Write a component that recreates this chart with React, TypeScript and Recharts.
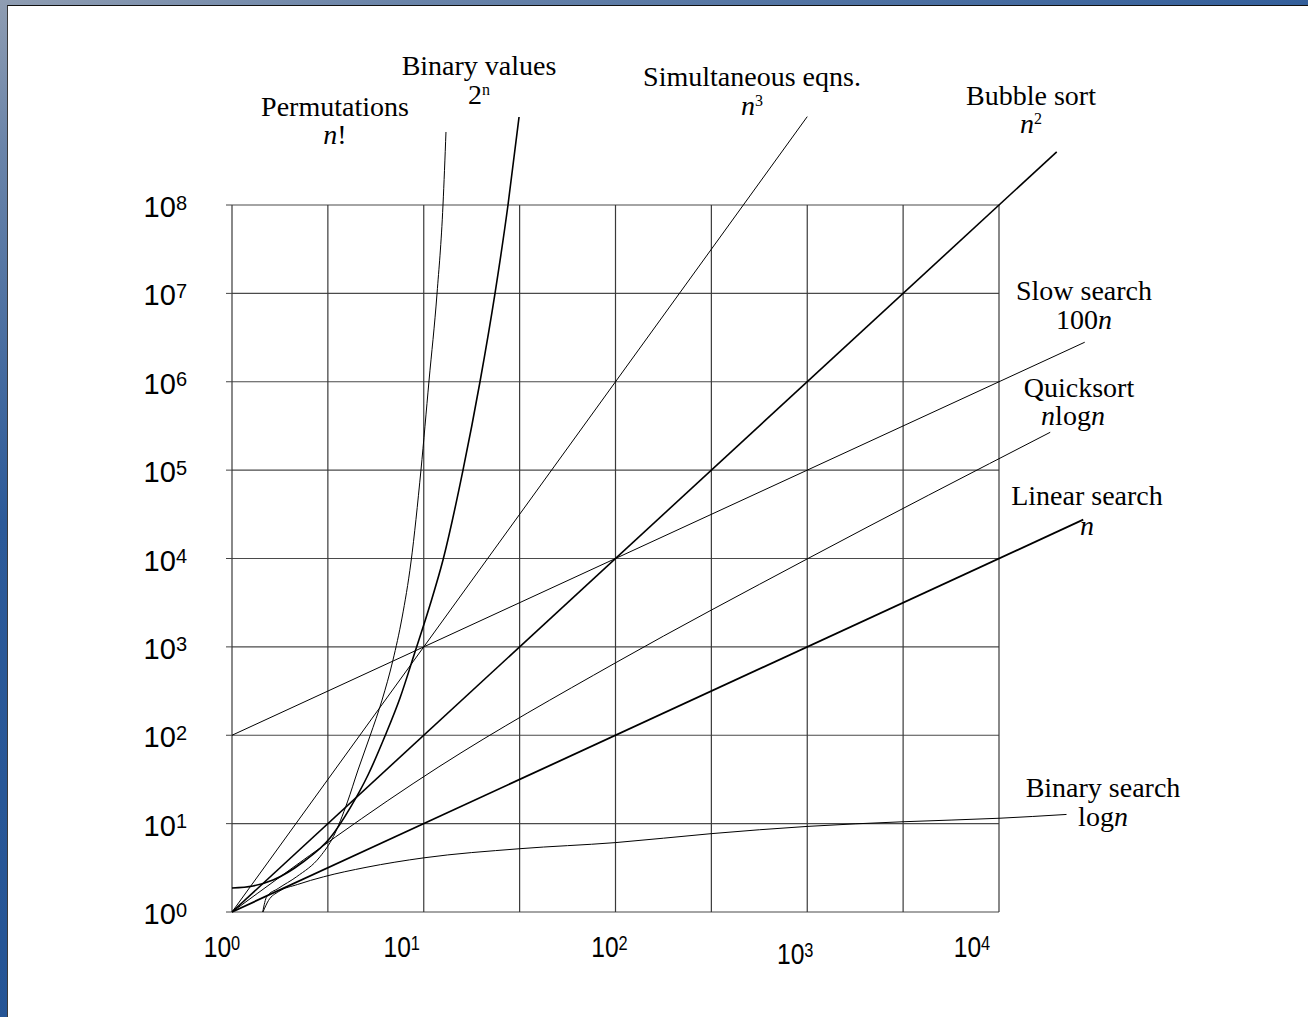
import { LineChart, Line, XAxis, YAxis, ReferenceLine, Customized } from 'recharts'

const W = 1308
const H = 1017

// grid lines: decades on y, half decades on x
const xGridValues = [1, 3.162, 10, 31.62, 100, 316.2, 1000, 3162, 10000]
const yGridValues = [1, 10, 100, 1000, 1e4, 1e5, 1e6, 1e7, 1e8]
const xTickValues = [1, 10, 100, 1000, 10000]
const yTickValues = [1, 10, 100, 1000, 1e4, 1e5, 1e6, 1e7, 1e8]

// curves as (n, value) pairs
const factorialN = [1.446, 1.517, 1.744, 2.175, 2.877, 3.376, 4.0, 4.54, 5.245, 6.06, 6.91, 7.7, 8.58, 9.67, 10.65, 11.73, 12.6, 13.06]
const factorialV = [1, 1.49, 1.85, 2.51, 4.22, 7.11, 17.6, 40.4, 98, 250, 710, 2120, 9130, 1e5, 1.02e6, 1e7, 1e8, 6.7e8]

const powerN = [1, 1.287, 1.636, 2.346, 3.245, 4.125, 5.12, 6.28, 7.52, 9.0, 10.78, 12.6, 16.02, 19.65, 23.53, 27.5, 31.4]
const powerV = [1.87, 1.97, 2.3, 3.68, 6.88, 15, 35.5, 98, 264, 875, 2980, 9620, 1e5, 1e6, 1e7, 1e8, 9.9e8]

const cubeN = [1, 1000]
const cubeV = [1, 1e9]

const squareN = [1, 20000]
const squareV = [1, 4e8]

const slowSearchN = [1, 28000]
const slowSearchV = [100, 2.8e6]

const quicksortN = [1, 12, 100, 1000, 18500]
const quicksortV = [1, 44, 660, 9900, 2.68e5]

const linearN = [1, 27500]
const linearV = [1, 27500]

const binarySearchN = [1.45, 1.55, 1.75, 2.2, 3, 5, 10, 31.6, 100, 316, 1000, 3162, 10000, 22500]
const binarySearchV = [1, 1.35, 1.7, 2.05, 2.5, 3.2, 4.1, 5.2, 6.1, 7.7, 9.3, 10.5, 11.5, 12.7]

const zip = (n: number[], v: number[]) => n.map((x, i) => ({ x, y: v[i] }))

const sans = "'Liberation Sans', Arial, sans-serif"
const serif = "'Liberation Serif', 'Times New Roman', serif"

// hand placed tick labels in the original sit a bit left of their grid lines
const xLabelShift = [-10, -22, -6, -12, -27]
const xLabelDrop = [0, 0, 0, 7, 0]

// x labels use a narrow face: squeeze the sans horizontally
const XTick = ({ x, y, index }: any) => (
  <text
    transform={`translate(${x + xLabelShift[index]},${y + 45 + xLabelDrop[index]}) scale(0.82,1)`}
    textAnchor="middle"
    fontFamily={sans}
    fontSize={30}
    fill="#000"
  >
    10<tspan fontSize={20} dy={-7.5}>{index}</tspan>
  </text>
)

const YTick = ({ x, y, index }: any) => (
  <text x={x + 1} y={y + 12} textAnchor="end" fontFamily={sans} fontSize={29} fill="#000">
    10<tspan fontSize={20} dy={-7.5}>{index}</tspan>
  </text>
)

const Sup = ({ children }: any) => (
  <tspan fontSize={16} dy={-9}>{children}</tspan>
)
const It = ({ children }: any) => <tspan fontStyle="italic">{children}</tspan>

const Annotations = () => (
  <g fontFamily={serif} fontSize={28} fill="#000" textAnchor="middle">
    <text x={335} y={116}>Permutations</text>
    <text x={335} y={144}><It>n</It>!</text>

    <text x={479} y={75}>Binary values</text>
    <text x={479} y={104}>2<Sup>n</Sup></text>

    <text x={752} y={86}>Simultaneous eqns.</text>
    <text x={752} y={115}><It>n</It><Sup>3</Sup></text>

    <text x={1031} y={105}>Bubble sort</text>
    <text x={1031} y={133}><It>n</It><Sup>2</Sup></text>

    <text x={1084} y={300}>Slow search</text>
    <text x={1084} y={329}>100<It>n</It></text>

    <text x={1079} y={397}>Quicksort</text>
    <text x={1073} y={425}><It>n</It>log<It>n</It></text>

    <text x={1087} y={505}>Linear search</text>
    <text x={1087} y={535}><It>n</It></text>

    <text x={1103} y={797}>Binary search</text>
    <text x={1103} y={826}>log<It>n</It></text>
  </g>
)

export default function App() {
  return (
    <div
      style={{
        position: 'absolute',
        left: 0,
        top: 0,
        width: W,
        height: H,
        overflow: 'hidden',
        background: 'linear-gradient(160deg, #8f9db2 0%, #6a84a9 10%, #2c5a99 35%, #1e4f92 100%)'
      }}
    >
      <div
        style={{
          position: 'absolute',
          left: 7,
          top: 5,
          right: 0,
          bottom: 0,
          background: '#fff',
          borderTop: '1.5px solid #111',
          borderLeft: '1.5px solid #3a3a3a'
        }}
      />
      <div style={{ position: 'absolute', left: 0, top: 0 }}>
        <LineChart width={W} height={H} margin={{ top: 28.25, right: 213.125, bottom: 0, left: 0 }}>
          <XAxis
            dataKey="x"
            type="number"
            scale="log"
            domain={[1, 31622.78]}
            ticks={xTickValues}
            interval={0}
            axisLine={false}
            tickLine={false}
            tickSize={0}
            tickMargin={0}
            height={105}
            tick={<XTick />}
          />
          <YAxis
            dataKey="y"
            type="number"
            scale="log"
            domain={[1, 1e10]}
            ticks={yTickValues}
            interval={0}
            axisLine={false}
            tickLine={{ stroke: '#444' }}
            tickSize={6}
            tickMargin={40}
            width={232}
            tick={<YTick />}
          />

          {yGridValues.map((v) => (
            <ReferenceLine
              key={`h-${v}`}
              segment={[{ x: 1, y: v }, { x: 10000, y: v }]}
              stroke="#4a4a4a"
              strokeWidth={1.2}
            />
          ))}
          {xGridValues.map((v) => (
            <ReferenceLine
              key={`v-${v}`}
              segment={[{ x: v, y: 1 }, { x: v, y: 1e8 }]}
              stroke="#3a3a3a"
              strokeWidth={1.2}
            />
          ))}

          <Line data={zip(factorialN, factorialV)} dataKey="y" type="monotone" stroke="#000" strokeWidth={1} dot={false} isAnimationActive={false} />
          <Line data={zip(powerN, powerV)} dataKey="y" type="monotone" stroke="#000" strokeWidth={1.6} dot={false} isAnimationActive={false} />
          <Line data={zip(cubeN, cubeV)} dataKey="y" type="linear" stroke="#000" strokeWidth={1} dot={false} isAnimationActive={false} />
          <Line data={zip(squareN, squareV)} dataKey="y" type="linear" stroke="#000" strokeWidth={1.6} dot={false} isAnimationActive={false} />
          <Line data={zip(slowSearchN, slowSearchV)} dataKey="y" type="linear" stroke="#000" strokeWidth={1} dot={false} isAnimationActive={false} />
          <Line data={zip(quicksortN, quicksortV)} dataKey="y" type="monotone" stroke="#000" strokeWidth={1} dot={false} isAnimationActive={false} />
          <Line data={zip(linearN, linearV)} dataKey="y" type="linear" stroke="#000" strokeWidth={1.8} dot={false} isAnimationActive={false} />
          <Line data={zip(binarySearchN, binarySearchV)} dataKey="y" type="monotone" stroke="#000" strokeWidth={1} dot={false} isAnimationActive={false} />

          <Customized component={<Annotations />} />
        </LineChart>
      </div>
    </div>
  )
}
